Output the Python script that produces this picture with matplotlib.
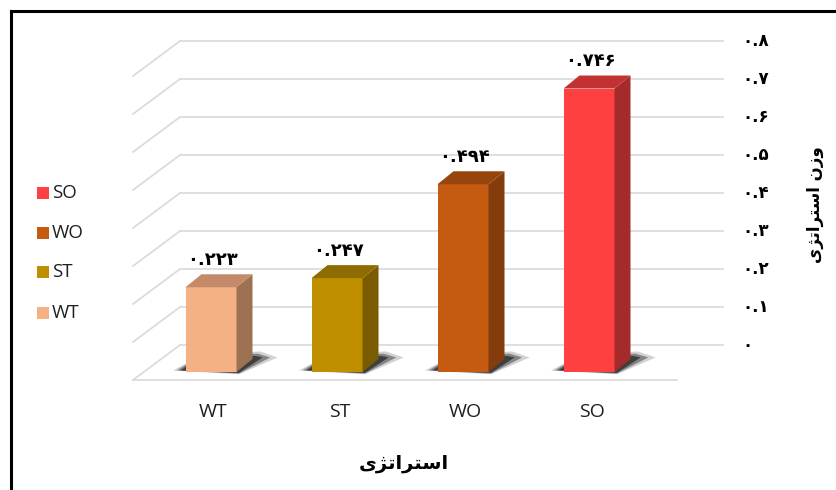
import matplotlib
matplotlib.use('Agg')
import matplotlib.pyplot as plt
from matplotlib.patches import Polygon, Rectangle
from matplotlib.lines import Line2D

# داده‌ها
categories = ['WT', 'ST', 'WO', 'SO']
values = [0.223, 0.247, 0.494, 0.746]
y_ticks = [0, 0.1, 0.2, 0.3, 0.4, 0.5, 0.6, 0.7, 0.8]
x_title = 'استراتژی'
y_title = 'وزن استراتژی'

front_colors = ['#F4B183', '#BF8F00', '#C55A11', '#FF4040']
side_colors = ['#9C7253', '#7A5C00', '#843C0C', '#A52A2A']
top_colors = ['#C48A6A', '#8F6C00', '#97450D', '#C23232']

# شکل‌دهی ساده حروف فارسی (matplotlib خودش اتصال حروف را انجام نمی‌دهد)
FORMS = {  # isolated, final, initial, medial
    'ا': ('\uFE8D', '\uFE8E', None, None),
    'س': ('\uFEB1', '\uFEB2', '\uFEB3', '\uFEB4'),
    'ت': ('\uFE95', '\uFE96', '\uFE97', '\uFE98'),
    'ر': ('\uFEAD', '\uFEAE', None, None),
    'ژ': ('\uFB8A', '\uFB8B', None, None),
    'ی': ('\uFBFC', '\uFBFD', '\uFBFE', '\uFBFF'),
    'و': ('\uFEED', '\uFEEE', None, None),
    'ز': ('\uFEAF', '\uFEB0', None, None),
    'ن': ('\uFEE5', '\uFEE6', '\uFEE7', '\uFEE8'),
}


def shape(text):
    out = []
    for k, c in enumerate(text):
        if c not in FORMS:
            out.append(c)
            continue
        prev = text[k - 1] if k > 0 else ''
        nxt = text[k + 1] if k + 1 < len(text) else ''
        joins_prev = prev in FORMS and FORMS[prev][2] is not None
        joins_next = nxt in FORMS and FORMS[c][2] is not None
        iso, fin, ini, med = FORMS[c]
        if joins_prev and joins_next:
            out.append(med)
        elif joins_prev:
            out.append(fin)
        elif joins_next:
            out.append(ini)
        else:
            out.append(iso)
    return ''.join(reversed(out))


def fa_num(x, fmt):
    s = fmt.format(x)
    return s.translate(str.maketrans('0123456789', '۰۱۲۳۴۵۶۷۸۹'))


fig = plt.figure(figsize=(8.37, 4.90), dpi=100)
ax = fig.add_axes([0, 0, 1, 1])

# مقیاس: 126 پیکسل برای هر دسته، 380 پیکسل برای هر واحد
PX, PY = 126.0, 380.0
ax.set_xlim(-211 / PX, (837 - 211) / PX)
ax.set_ylim(-(490 - 372) / PY, 372 / PY)
ax.axis('off')

# دیوار پشتی و کف
fl_x, fl_y = -78 / PX, -8 / PY        # لبه جلوی کف
wl_x, wl_y = -31 / PX, 27 / PY        # دیوار پشتی
w_right = 512 / PX
f_right = 466 / PX
grid_c = '#D9D9D9'
for t in y_ticks:
    ax.plot([fl_x, wl_x], [t + fl_y, t + wl_y], color=grid_c, lw=1.2, zorder=1)
    ax.plot([wl_x, w_right], [t + wl_y, t + wl_y], color=grid_c, lw=1.2, zorder=1)
    ax.text(531 / PX, t + wl_y, fa_num(t, '{:.1f}') if t else '۰',
            ha='left', va='center', fontsize=12, fontweight='bold',
            family='DejaVu Sans', color='black')
ax.plot([fl_x, f_right], [fl_y, fl_y], color=grid_c, lw=1.2, zorder=1)

# ستون‌های سه‌بعدی
w = 51 / PX
bdx, bdy = 16 / PX, 13 / PY
for i, v in enumerate(values):
    xl, xr = i - w / 2, i + w / 2
    # سایه روی کف
    for grow, a, col in [(1.0, 0.35, '#808080'), (0.7, 0.6, '#505050'),
                         (0.4, 0.9, '#383838')]:
        ax.add_patch(Polygon([(xl - 0.10 * grow, 0.004), (xr + 0.02, -0.006 * grow),
                              (xr + bdx + 0.20 * grow, bdy + 0.004),
                              (xr + bdx + 0.06 * grow, bdy + 0.02 * grow),
                              (xl + bdx, bdy + 0.01)],
                             closed=True, facecolor=col, edgecolor='none',
                             alpha=a, zorder=2))
    ax.add_patch(Rectangle((xl, 0), w, v, facecolor=front_colors[i],
                           edgecolor='none', zorder=3))
    ax.add_patch(Polygon([(xr, 0), (xr + bdx, bdy), (xr + bdx, v + bdy), (xr, v)],
                         closed=True, facecolor=side_colors[i], edgecolor='none',
                         zorder=3))
    ax.add_patch(Polygon([(xl, v), (xl + bdx, v + bdy), (xr + bdx, v + bdy), (xr, v)],
                         closed=True, facecolor=top_colors[i], edgecolor='none',
                         zorder=3))
    ax.text(i + 0.01, v + bdy + 0.037, fa_num(v, '{:.3f}'), ha='center', va='center',
            fontsize=13, fontweight='bold', family='DejaVu Sans', color='black',
            zorder=4)
    ax.text(i + 0.02, -40 / PY, categories[i], ha='center', va='center',
            fontsize=14, family='Open Sans', color='#1F1F1F')

# عنوان محورها
ax.text(193 / PX, -91 / PY, shape(x_title), ha='center', va='center',
        fontsize=14, fontweight='bold', family='DejaVu Sans', color='black')
ax.text(604 / PX, 167 / PY, shape(y_title), ha='center', va='center', rotation=90,
        fontsize=12, fontweight='bold', family='DejaVu Sans', color='black')

# راهنما
leg_y = [193, 233, 272, 313]
for lab, yy in zip(categories[::-1], leg_y):
    c = front_colors[categories.index(lab)]
    fig.add_artist(Rectangle((37 / 837, 1 - (yy + 6) / 490), 12 / 837, 12 / 490,
                             transform=fig.transFigure, facecolor=c, edgecolor='none'))
    fig.text(52 / 837, 1 - yy / 490, lab, ha='left', va='center', fontsize=13.5,
             family='Open Sans', color='#1F1F1F')

# قاب
fig.add_artist(Line2D([11.5 / 837, 11.5 / 837], [0, 1 - 11.5 / 490], color='black',
                      lw=2.2, transform=fig.transFigure))
fig.add_artist(Line2D([11.5 / 837, 1], [1 - 11.5 / 490, 1 - 11.5 / 490], color='black',
                      lw=2.2, transform=fig.transFigure))

fig.savefig('out.png', dpi=100)
